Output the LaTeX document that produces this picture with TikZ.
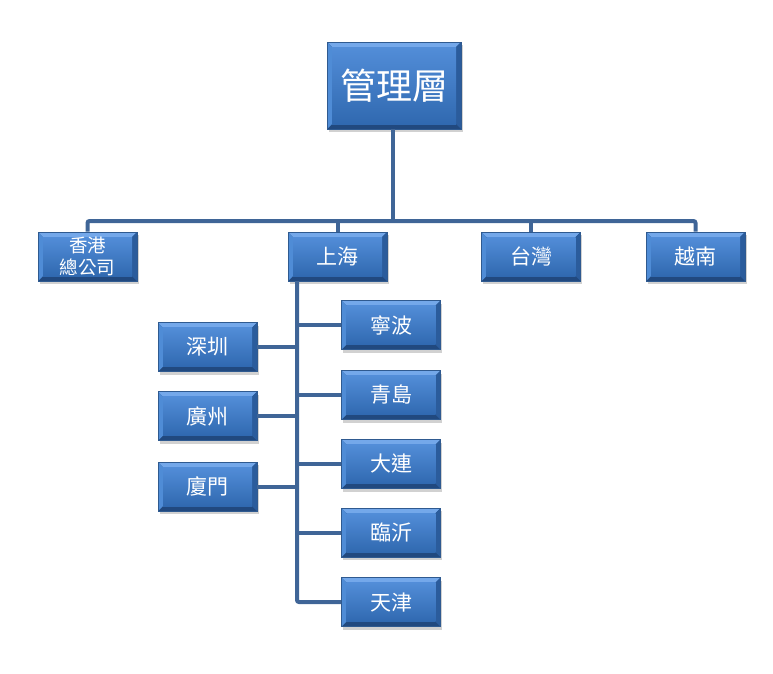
\documentclass[tikz,border=0pt]{standalone}
\usepackage{fontspec}
\newfontfamily\cjk{Noto Sans CJK TC}
\usetikzlibrary{shadows}
\definecolor{lnc}{HTML}{3F6597}
\definecolor{bvtop}{HTML}{74A8EA}
\definecolor{bvleft}{HTML}{4F8CD6}
\definecolor{bvright}{HTML}{2B5C9C}
\definecolor{bvbot}{HTML}{21497F}
\definecolor{facetop}{HTML}{528DD8}
\definecolor{facebot}{HTML}{3069B0}
\definecolor{edge}{HTML}{2F5A90}
\tikzset{
  conn/.style={draw=lnc, line width=4pt, rounded corners=2pt},
  bevelbox/.style={rectangle, inner sep=0pt, text=white, align=center,
    font=\cjk\fontsize{21}{24}\selectfont,
    minimum width=99pt, minimum height=49pt,
    drop shadow={shadow xshift=1.5pt, shadow yshift=-3pt, opacity=.3, fill=black!60},
    draw=edge, line width=0.6pt,
    path picture={
      \fill[bvbot] (path picture bounding box.south west) rectangle (path picture bounding box.north east);
      \fill[bvtop] (path picture bounding box.north west) -- (path picture bounding box.north east)
         -- ([shift={(-5pt,-5pt)}]path picture bounding box.north east)
         -- ([shift={(5pt,-5pt)}]path picture bounding box.north west) -- cycle;
      \fill[bvleft] (path picture bounding box.north west) -- ([shift={(5pt,-5pt)}]path picture bounding box.north west)
         -- ([shift={(5pt,5pt)}]path picture bounding box.south west) -- (path picture bounding box.south west) -- cycle;
      \fill[bvright] (path picture bounding box.north east) -- ([shift={(-5pt,-5pt)}]path picture bounding box.north east)
         -- ([shift={(-5pt,5pt)}]path picture bounding box.south east) -- (path picture bounding box.south east) -- cycle;
      \shade[top color=facetop, bottom color=facebot]
         ([shift={(5pt,5pt)}]path picture bounding box.south west) rectangle ([shift={(-5pt,-5pt)}]path picture bounding box.north east);
    }},
  bigbox/.style={bevelbox, minimum width=134pt, minimum height=87pt,
    font=\cjk\fontsize{36}{40}\selectfont},
  hkbox/.style={bevelbox, font=\cjk\fontsize{18.5}{22}\selectfont}
}
\begin{document}
\begin{tikzpicture}[x=1pt,y=-1pt]
\useasboundingbox (0,0) rectangle (773,673);
% nodes
\node[bigbox] (top) at (394,85.5) {管理層};
\node[hkbox] (hk) at (87.5,256.5) {香港\\總公司};
\node[bevelbox] (sh) at (337.5,256.5) {上海};
\node[bevelbox] (tw) at (531,256.5) {台灣};
\node[bevelbox] (yn) at (695.5,256.5) {越南};
\node[bevelbox] (nb) at (391,325) {寧波};
\node[bevelbox] (qd) at (391,395) {青島};
\node[bevelbox] (dl) at (391,464) {大連};
\node[bevelbox] (ly) at (391,532.5) {臨沂};
\node[bevelbox] (tj) at (391,602) {天津};
\node[bevelbox] (sz) at (207.5,347) {深圳};
\node[bevelbox] (gz) at (207.5,416) {廣州};
\node[bevelbox] (xm) at (207.5,486.5) {廈門};
% connectors
\coordinate (bus) at (393,221);
\coordinate (trunk) at (297,281);
\path[conn] (hk.north) -- (hk.north |- bus) -- (yn.north |- bus) -- (yn.north);
\path[conn] (top.south -| bus) -- (bus);
\path[conn] (sh.north) -- (sh.north |- bus);
\path[conn] (tw.north) -- (tw.north |- bus);
\path[conn] (trunk) |- (tj.west);
\path[conn] (nb.west) -- (nb.west -| trunk);
\path[conn] (qd.west) -- (qd.west -| trunk);
\path[conn] (dl.west) -- (dl.west -| trunk);
\path[conn] (ly.west) -- (ly.west -| trunk);
\path[conn] (sz.east) -- (sz.east -| trunk);
\path[conn] (gz.east) -- (gz.east -| trunk);
\path[conn] (xm.east) -- (xm.east -| trunk);
\end{tikzpicture}
\end{document}
